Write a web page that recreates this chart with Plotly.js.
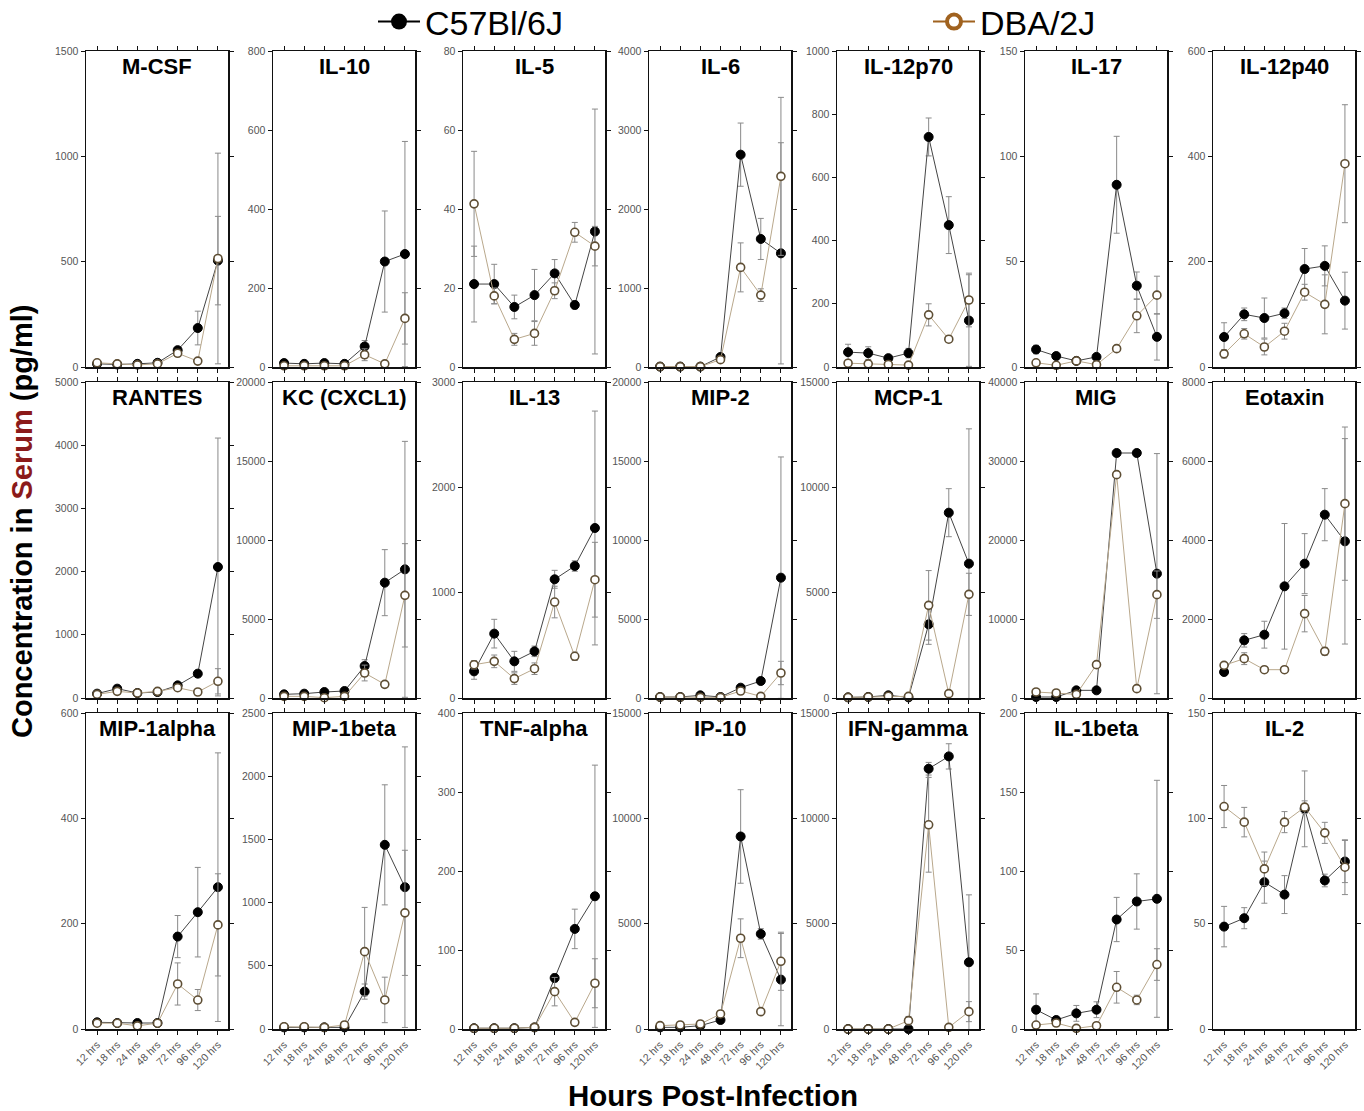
<!DOCTYPE html>
<html>
<head>
<meta charset="utf-8">
<script src="https://cdn.plot.ly/plotly-3.0.1.min.js"></script>
<style>html,body{margin:0;padding:0;background:#fff}#chart{width:1364px;height:1111px}</style>
</head>
<body>
<div id="chart"></div>
<script>
// ---------- DATA ----------
const categories = ["12 hrs","18 hrs","24 hrs","48 hrs","72 hrs","96 hrs","120 hrs"];
const seriesNames = ["C57Bl/6J","DBA/2J"];
const panelNames = ["M-CSF","IL-10","IL-5","IL-6","IL-12p70","IL-17","IL-12p40",
  "RANTES","KC (CXCL1)","IL-13","MIP-2","MCP-1","MIG","Eotaxin",
  "MIP-1alpha","MIP-1beta","TNF-alpha","IP-10","IFN-gamma","IL-1beta","IL-2"];
const yMax  = [1500,800,80,4000,1000,150,600, 5000,20000,3000,20000,15000,40000,8000, 600,2500,400,15000,15000,200,150];
const yStep = [500,200,20,1000,200,50,200, 1000,5000,1000,5000,5000,10000,2000, 200,500,100,5000,5000,50,50];

const mcsf_C57 = [15,12,15,20,80,185,505],      mcsf_DBA = [20,15,10,15,65,28,515];
const mcsf_C57_err = [5,4,5,5,15,80,210],        mcsf_DBA_err = [5,4,4,5,15,10,500];
const il10_C57 = [10,8,10,8,52,267,286],         il10_DBA = [3,3,3,3,31,8,123];
const il10_C57_err = [4,3,4,3,15,128,285],       il10_DBA_err = [2,2,2,2,15,5,65];
const il5_C57 = [21,21,15.2,18.2,23.7,15.7,34.3], il5_DBA = [41.3,18,7,8.5,19.3,34.1,30.6];
const il5_C57_err = [9.6,5,3,6.5,3.5,1,31],      il5_DBA_err = [13.3,2,1.5,3,2,2.5,5];
const il6_C57 = [5,5,5,127,2688,1621,1439],      il6_DBA = [5,5,5,93,1261,910,2413];
const il6_C57_err = [3,3,3,30,400,260,1400],     il6_DBA_err = [3,3,3,30,310,80,1000];
const il12p70_C57 = [47,44,28,44,728,449,147],   il12p70_DBA = [12,10,8,6,165,88,212];
const il12p70_C57_err = [25,20,10,15,60,90,145], il12p70_DBA_err = [5,5,5,5,35,10,85];
const il17_C57 = [8.3,5.2,2.9,4.8,86.5,38.6,14.3], il17_DBA = [2,0.8,2.9,1.1,8.7,24.3,34.1];
const il17_C57_err = [2,1,0.5,1,23,6.5,11],      il17_DBA_err = [1,0.5,0.5,0.5,1,8,9];
const il12p40_C57 = [57,100,93,102,186,192,126], il12p40_DBA = [25,63,38,68,142,119,386];
const il12p40_C57_err = [27,12,38,10,39,38,54],  il12p40_DBA_err = [8,10,15,15,15,56,112];
const rantes_C57 = [69,148,79,95,200,385,2073],  rantes_DBA = [58,105,79,105,163,95,264];
const rantes_C57_err = [20,30,20,20,40,50,2040], rantes_DBA_err = [15,20,15,20,30,20,200];
const kc_C57 = [232,274,380,443,2025,7300,8143], kc_DBA = [105,105,20,105,1582,865,6498];
const kc_C57_err = [80,80,100,100,400,2090,8100], kc_DBA_err = [50,50,20,50,500,150,3270];
const il13_C57 = [253,611,348,443,1127,1253,1614], il13_DBA = [316,348,184,278,911,396,1123];
const il13_C57_err = [75,136,95,50,85,50,1110],  il13_DBA_err = [40,60,55,55,150,40,355];
const mip2_C57 = [63,63,169,63,654,1076,7616],   mip2_DBA = [63,63,40,40,443,105,1582];
const mip2_C57_err = [20,20,60,20,150,200,7640], mip2_DBA_err = [20,20,20,20,100,40,740];
const mcp1_C57 = [30,50,127,30,3497,8797,6377],  mcp1_DBA = [30,50,80,79,4399,206,4921];
const mcp1_C57_err = [10,20,40,10,950,1140,6400], mcp1_DBA_err = [10,20,30,30,1650,100,1000];
const mig_C57 = [127,127,970,970,31013,31013,15738], mig_DBA = [760,633,464,4219,28270,1181,13080];
const mig_C57_err = [50,50,150,150,200,200,15200], mig_DBA_err = [100,100,100,300,300,200,3000];
const eotaxin_C57 = [658,1460,1603,2827,3401,4641,3966], eotaxin_DBA = [827,996,717,717,2135,1181,4920];
const eotaxin_C57_err = [80,170,340,1590,760,660,2600], eotaxin_DBA_err = [60,150,40,40,460,100,1940];
const mip1a_C57 = [12.7,11.4,11.4,11.4,175.5,221.8,269.3], mip1a_DBA = [11,11,6,11,85.5,55,197.7];
const mip1a_C57_err = [3,2,2,2,40,85,255],       mip1a_DBA_err = [2,2,2,2,40,20,97];
const mip1b_C57 = [13,13,13,13,296,1457,1122],   mip1b_DBA = [18,18,13,32,612,230,919];
const mip1b_C57_err = [5,5,5,5,60,475,1110],     mip1b_DBA_err = [5,5,5,10,350,180,495];
const tnfa_C57 = [1,1,1,2,64.6,126.7,168],       tnfa_DBA = [1,1,1,2,47.3,8.4,57.9];
const tnfa_C57_err = [0.5,0.5,0.5,0.5,5,25,166], tnfa_DBA_err = [0.5,0.5,0.5,0.5,18,2,31];
const ip10_C57 = [79,79,158,428,9139,4514,2344], ip10_DBA = [158,190,238,713,4308,824,3215];
const ip10_C57_err = [30,30,40,100,2220,250,2190], ip10_DBA_err = [40,40,40,150,920,150,1380];
const ifng_C57 = [0,0,0,0,12355,12941,3168],     ifng_DBA = [0,0,0,396,9694,79,824];
const ifng_C57_err = [0,0,0,0,300,600,3200],     ifng_DBA_err = [0,0,0,200,2250,50,475];
const il1b_C57 = [12.2,5.7,9.9,12.2,69.3,80.7,82.4], il1b_DBA = [2.5,3.8,0.4,2.1,26.4,18.4,40.8];
const il1b_C57_err = [10,2,5,5,14,17.5,75],      il1b_DBA_err = [1,1,0.5,1,10,3,10];
const il2_C57 = [48.6,52.6,69.7,63.8,104.5,70.5,79.5], il2_DBA = [105.6,98.2,76,98.2,105.3,93.1,76.8];
const il2_C57_err = [9.6,5,10,9,18,3,10],        il2_DBA_err = [10,7,8,5,3,5,13];

const c57Series = [mcsf_C57,il10_C57,il5_C57,il6_C57,il12p70_C57,il17_C57,il12p40_C57,
  rantes_C57,kc_C57,il13_C57,mip2_C57,mcp1_C57,mig_C57,eotaxin_C57,
  mip1a_C57,mip1b_C57,tnfa_C57,ip10_C57,ifng_C57,il1b_C57,il2_C57];
const dbaSeries = [mcsf_DBA,il10_DBA,il5_DBA,il6_DBA,il12p70_DBA,il17_DBA,il12p40_DBA,
  rantes_DBA,kc_DBA,il13_DBA,mip2_DBA,mcp1_DBA,mig_DBA,eotaxin_DBA,
  mip1a_DBA,mip1b_DBA,tnfa_DBA,ip10_DBA,ifng_DBA,il1b_DBA,il2_DBA];
const c57Err = [mcsf_C57_err,il10_C57_err,il5_C57_err,il6_C57_err,il12p70_C57_err,il17_C57_err,il12p40_C57_err,
  rantes_C57_err,kc_C57_err,il13_C57_err,mip2_C57_err,mcp1_C57_err,mig_C57_err,eotaxin_C57_err,
  mip1a_C57_err,mip1b_C57_err,tnfa_C57_err,ip10_C57_err,ifng_C57_err,il1b_C57_err,il2_C57_err];
const dbaErr = [mcsf_DBA_err,il10_DBA_err,il5_DBA_err,il6_DBA_err,il12p70_DBA_err,il17_DBA_err,il12p40_DBA_err,
  rantes_DBA_err,kc_DBA_err,il13_DBA_err,mip2_DBA_err,mcp1_DBA_err,mig_DBA_err,eotaxin_DBA_err,
  mip1a_DBA_err,mip1b_DBA_err,tnfa_DBA_err,ip10_DBA_err,ifng_DBA_err,il1b_DBA_err,il2_DBA_err];

// ---------- LAYOUT ----------
const W = 1364, H = 1111, PW = 142, PH = 316;
const colLeft = [86,273,463,649,837,1025,1213];
const rowTop = [51,382,713];
const FONT = "Liberation Sans, Arial, Helvetica, sans-serif";
const DBA_EDGE = "#5e4e34", DBA_LINE = "#b9a88c", C57_LINE = "#444", ERR = "#8a8a8a";

const legendStyle = (x) => ({orientation: "h", x: x, xanchor: "left", y: (H - 22) / H, yanchor: "middle",
  font: {family: FONT, size: 34, color: "#000"}, bgcolor: "rgba(0,0,0,0)", itemclick: false,
  itemwidth: 42});

const traces = [];
const layout = {
  width: W, height: H,
  margin: {l:0, r:0, t:0, b:0, autoexpand: false},
  paper_bgcolor: "#fff", plot_bgcolor: "#fff",
  font: {family: FONT, color: "#000"},
  showlegend: true,
  legend: legendStyle(373 / W),
  legend2: legendStyle(928 / W),
  annotations: []
};

panelNames.forEach((name, i) => {
  const r = Math.floor(i / 7), c = i % 7, n = i + 1;
  const xa = n === 1 ? "x" : "x" + n, ya = n === 1 ? "y" : "y" + n;
  const xk = n === 1 ? "xaxis" : "xaxis" + n, yk = n === 1 ? "yaxis" : "yaxis" + n;
  layout[xk] = {
    domain: [colLeft[c] / W, (colLeft[c] + PW) / W], anchor: ya,
    type: "category", categoryarray: categories, range: [-0.55, 6.5],
    showline: true, linecolor: "#111", linewidth: 1.5, mirror: "ticks",
    ticks: "outside", ticklen: 4, tickwidth: 1, tickcolor: "#111",
    showgrid: false, zeroline: false,
    showticklabels: r === 2, tickangle: -45,
    tickfont: {family: FONT, size: 10.5, color: "#555"}, fixedrange: true
  };
  layout[yk] = {
    domain: [(H - rowTop[r] - PH) / H, (H - rowTop[r]) / H], anchor: xa,
    range: [0, yMax[i]], tick0: 0, dtick: yStep[i], tickformat: "d",
    showline: true, linecolor: "#111", linewidth: 1.5, mirror: "ticks",
    ticks: "outside", ticklen: 4, tickwidth: 1, tickcolor: "#111",
    showgrid: false, zeroline: false, ticklabelstandoff: 0,
    tickfont: {family: FONT, size: 10.5, color: "#555"}, fixedrange: true
  };
  traces.push({
    type: "scatter", mode: "lines+markers", x: categories, y: c57Series[i],
    xaxis: xa, yaxis: ya, showlegend: false, cliponaxis: false, name: seriesNames[0],
    line: {color: C57_LINE, width: 1},
    marker: {symbol: "circle", size: 9, color: "#000", line: {color: "#000", width: 1}},
    error_y: {type: "data", array: c57Err[i], visible: true, color: ERR, thickness: 1, width: 3}
  });
  traces.push({
    type: "scatter", mode: "lines+markers", x: categories, y: dbaSeries[i],
    xaxis: xa, yaxis: ya, showlegend: false, cliponaxis: false, name: seriesNames[1],
    line: {color: DBA_LINE, width: 1},
    marker: {symbol: "circle", size: 8, color: "#fff", line: {color: DBA_EDGE, width: 1.6}},
    error_y: {type: "data", array: dbaErr[i], visible: true, color: ERR, thickness: 1, width: 3}
  });
  layout.annotations.push({
    xref: xa + " domain", yref: ya + " domain", x: 0.5, y: 1, xanchor: "center", yanchor: "top",
    yshift: -1, showarrow: false, text: "<b>" + name + "</b>",
    font: {family: FONT, size: 22, color: "#000"}
  });
});

// legend entries (one hidden point each, outside the drawn range)
traces.push({type: "scatter", mode: "lines+markers", x: [categories[0]], y: [-1e9], name: seriesNames[0],
  xaxis: "x", yaxis: "y", showlegend: true, legend: "legend", cliponaxis: true, line: {color: "#000", width: 2},
  marker: {symbol: "circle", size: 16, color: "#000"}});
traces.push({type: "scatter", mode: "lines+markers", x: [categories[0]], y: [-1e9], name: seriesNames[1],
  xaxis: "x", yaxis: "y", showlegend: true, legend: "legend2", cliponaxis: true, line: {color: "#a0621f", width: 2},
  marker: {symbol: "circle", size: 14, color: "#fff", line: {color: "#a0621f", width: 4}}});

layout.annotations.push({
  xref: "paper", yref: "paper", x: 22 / W, y: (H - 522) / H, xanchor: "center", yanchor: "middle",
  textangle: -90, showarrow: false,
  text: "<b>Concentration in <span style='color:#8b1a1a'>Serum</span> (pg/ml)</b>",
  font: {family: FONT, size: 29, color: "#000"}
});
layout.annotations.push({
  xref: "paper", yref: "paper", x: 713 / W, y: (H - 1095) / H, xanchor: "center", yanchor: "middle",
  showarrow: false, text: "<b>Hours Post-Infection</b>",
  font: {family: FONT, size: 29.5, color: "#000"}
});

Plotly.newPlot("chart", traces, layout, {displayModeBar: false, staticPlot: true});
</script>
</body>
</html>
